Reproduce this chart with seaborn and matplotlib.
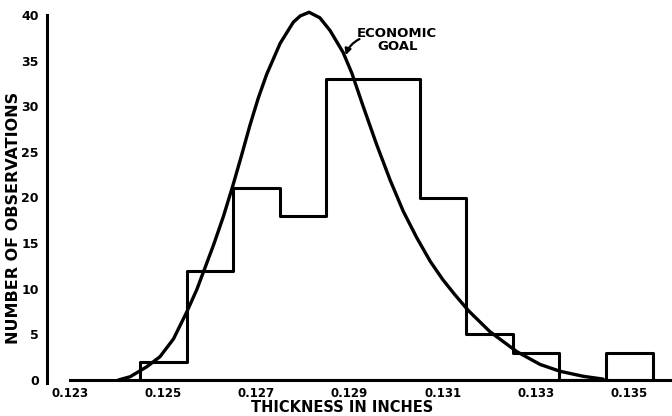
import seaborn as sns
import matplotlib.pyplot as plt

sns.set_style('white')
plt.rcParams['font.family'] = ['DejaVu Sans']
plt.rcParams['font.weight'] = 'bold'
plt.rcParams['text.color'] = 'black'

# histogram of thickness readings (bin centres in inches, counts)
bin_centers = [0.125, 0.126, 0.127, 0.128, 0.129, 0.130, 0.131, 0.132, 0.133, 0.134, 0.135]
counts = [2, 12, 21, 18, 33, 33, 20, 5, 3, 0, 3]
bin_edges = [0.1245, 0.1255, 0.1265, 0.1275, 0.1285, 0.1295, 0.1305,
             0.1315, 0.1325, 0.1335, 0.1345, 0.1355]

# "economic goal" curve
curve_x = [0.12404, 0.12429, 0.12465, 0.12493, 0.12522, 0.12550, 0.12572, 0.12586,
           0.12608, 0.12629, 0.12650, 0.12668, 0.12686, 0.12704, 0.12722, 0.12751,
           0.12779, 0.12794, 0.12813, 0.12836, 0.12858, 0.12886, 0.12905, 0.12929,
           0.12958, 0.12987, 0.13015, 0.13044, 0.13073, 0.13100, 0.13125, 0.13155,
           0.13201, 0.13259, 0.13309, 0.13352, 0.13402, 0.13444]
curve_y = [0.0, 0.36, 1.46, 2.55, 4.5, 7.4, 9.9, 11.8,
           14.8, 17.9, 21.4, 24.6, 27.9, 30.9, 33.5, 36.9,
           39.2, 39.9, 40.3, 39.7, 38.3, 35.9, 33.6, 30.0,
           25.8, 21.9, 18.5, 15.6, 13.0, 11.0, 9.4, 7.6,
           5.3, 3.1, 1.7, 0.95, 0.4, 0.1]

x_ticks = [0.123, 0.125, 0.127, 0.129, 0.131, 0.133, 0.135]
x_minor = [0.124, 0.126, 0.128, 0.130, 0.132, 0.134]
y_ticks = [0, 5, 10, 15, 20, 25, 30, 35, 40]

fig = plt.figure(figsize=(6.72, 4.16), dpi=100)
ax = fig.add_axes([47/672, 36/416, 625/672, 365/416])

sns.histplot(x=bin_centers, weights=counts, bins=bin_edges, element='step',
             fill=True, facecolor='white', edgecolor='black', alpha=1,
             linewidth=2.2, ax=ax)
sns.lineplot(x=curve_x, y=curve_y, color='black', linewidth=2.4, ax=ax,
             sort=False, clip_on=False, solid_joinstyle='round',
             solid_capstyle='round')

ax.set_xlim(0.122506, 0.135918)
ax.set_ylim(0, 40)
ax.spines['top'].set_visible(False)
ax.spines['right'].set_visible(False)
for s in ['left', 'bottom']:
    ax.spines[s].set_linewidth(2.2)
    ax.spines[s].set_color('black')
ax.spines['bottom'].set_bounds(0.123, 0.135918)
ax.spines['left'].set_bounds(-0.3, 40)

ax.set_xticks(x_ticks)
ax.set_xticklabels([str(t) for t in x_ticks])
ax.set_xticks(x_minor, minor=True)
ax.set_yticks(y_ticks)
ax.tick_params(axis='x', which='both', direction='in', length=5, width=2,
               pad=5, labelsize=8.5, colors='black')
ax.tick_params(axis='y', direction='in', length=5, width=2, pad=6,
               labelsize=9, colors='black')
for lab in ax.get_xticklabels() + ax.get_yticklabels():
    lab.set_fontweight('bold')
ax.set_xlabel('')
ax.set_ylabel('')

ax.text(0.13002, 37.3, 'ECONOMIC\nGOAL', ha='center', va='center',
        fontsize=9.5, fontweight='bold', linespacing=1.0)
ax.annotate('', xy=(0.12890, 35.3), xytext=(0.129266, 37.5),
            arrowprops=dict(arrowstyle='-|>', color='black', lw=1.6,
                            connectionstyle='arc3,rad=0.25', mutation_scale=9))

fig.text(14/672, 1 - 218/416, 'NUMBER OF OBSERVATIONS', rotation=90,
         ha='center', va='center', fontsize=11.5, fontweight='bold')
fig.text(342/672, 1 - 408/416, 'THICKNESS IN INCHES', ha='center',
         va='center', fontsize=10.5, fontweight='bold')

fig.savefig('out.png', dpi=100)
